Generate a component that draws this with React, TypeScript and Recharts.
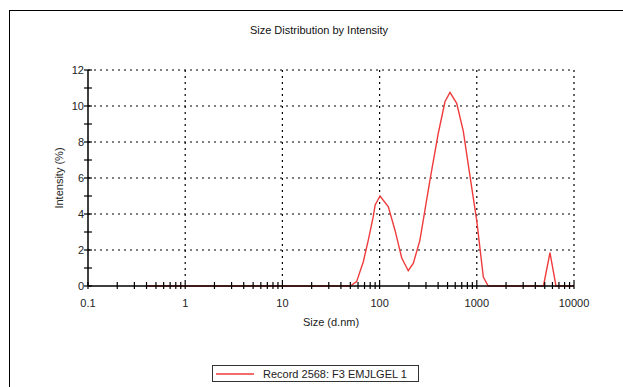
import {
  LineChart,
  Line,
  CartesianGrid,
  XAxis,
  YAxis,
  Legend,
} from "recharts";

const sizes = [
  0.4, 50, 58, 68, 76.5, 86, 90, 101, 123, 144, 169, 197, 222, 260, 330, 402,
  471, 530, 621, 726, 851, 998, 1167, 1312, 4850, 5660, 6530, 10000,
];
const intensity = [
  0, 0, 0.24, 1.35, 2.55, 3.85, 4.5, 5.0, 4.4, 3.1, 1.55, 0.85, 1.25, 2.55,
  5.9, 8.5, 10.25, 10.75, 10.15, 8.6, 6.1, 3.65, 0.5, 0, 0, 1.85, 0, 0,
];

const majorX = [0.1, 1, 10, 100, 1000, 10000];
const majorXLabels = ["0.1", "1", "10", "100", "1000", "10000"];
const minorMult = [2, 3, 4, 5, 6, 7, 8, 9];
const yTicks = [0, 1, 2, 3, 4, 5, 6, 7, 8, 9, 10, 11, 12];
const yGrid = [2, 4, 6, 8, 10, 12];

const recordName = "Record 2568: F3 EMJLGEL 1";

const xTicks: number[] = [];
majorX.forEach((m, i) => {
  xTicks.push(m);
  if (i < majorX.length - 1) minorMult.forEach((k) => xTicks.push(+(m * k).toPrecision(3)));
});

const data = sizes.map((s, i) => ({ size: s, value: intensity[i] }));

const FONT = '"Liberation Sans", Arial, sans-serif';
const RED = "#ef3b3b";

const XTick = (props: any) => {
  const { x, y, payload } = props;
  const idx = majorX.indexOf(payload.value);
  return (
    <g>
      <line x1={x} x2={x} y1={y - 4} y2={y + 3} stroke="#000" strokeWidth={1.2} />
      {idx >= 0 && (
        <text x={x} y={y + 21} textAnchor="middle" fontSize={11} fill="#222" fontFamily={FONT}>
          {majorXLabels[idx]}
        </text>
      )}
    </g>
  );
};

const YTick = (props: any) => {
  const { x, y, payload } = props;
  const labeled = payload.value % 2 === 0;
  return (
    <g>
      <line x1={x - 4} x2={x + 4} y1={y} y2={y} stroke="#000" strokeWidth={1.2} />
      {labeled && (
        <text x={x - 4} y={y + 4} textAnchor="end" fontSize={11} fill="#222" fontFamily={FONT}>
          {payload.value}
        </text>
      )}
    </g>
  );
};

const LegendBox = () => (
  <div
    style={{
      width: 207,
      height: 17,
      border: "1px solid #333",
      display: "flex",
      alignItems: "center",
      fontFamily: FONT,
      fontSize: 11,
      color: "#222",
      boxSizing: "border-box",
      background: "#fff",
    }}
  >
    <svg width={50} height={10}>
      <line x1={3} x2={41} y1={5} y2={5} stroke={RED} strokeWidth={1.5} />
    </svg>
    <span style={{ whiteSpace: "nowrap" }}>{recordName}</span>
  </div>
);

export default function App() {
  return (
    <div
      style={{
        position: "absolute",
        left: 0,
        top: 0,
        width: 623,
        height: 387,
        background: "#fff",
        overflow: "hidden",
        fontFamily: FONT,
      }}
    >
      <div
        style={{
          position: "absolute",
          left: 9,
          top: 10,
          width: 620,
          height: 380,
          borderLeft: "1.5px solid #000",
          borderTop: "1.5px solid #000",
        }}
      />
      <div
        style={{
          position: "absolute",
          left: 0,
          top: 24,
          width: 638,
          textAlign: "center",
          fontSize: 11,
          color: "#111",
        }}
      >
        Size Distribution by Intensity
      </div>
      <LineChart
        width={623}
        height={387}
        data={data}
        margin={{ top: 70, right: 49, bottom: 71, left: 48 }}
      >
        <CartesianGrid
          horizontalValues={yGrid}
          verticalValues={majorX.slice(1)}
          stroke="#000"
          strokeDasharray="2 4"
          strokeWidth={1.2}
        />
        <XAxis
          dataKey="size"
          type="number"
          scale="log"
          domain={[0.1, 10000]}
          allowDataOverflow
          ticks={xTicks}
          interval={0}
          tick={<XTick />}
          tickLine={false}
          tickSize={0}
          tickMargin={0}
          height={30}
          axisLine={{ stroke: "#000", strokeWidth: 1.5 }}
          label={{
            value: "Size (d.nm)",
            position: "bottom",
            offset: 2,
            style: { fontSize: 11, fill: "#222", fontFamily: FONT },
          }}
        />
        <YAxis
          type="number"
          domain={[0, 12]}
          ticks={yTicks}
          interval={0}
          tick={<YTick />}
          tickLine={false}
          tickSize={0}
          tickMargin={0}
          width={40}
          axisLine={{ stroke: "#000", strokeWidth: 1.5 }}
          label={{
            value: "Intensity (%)",
            angle: -90,
            position: "insideLeft",
            offset: 11,
            style: { fontSize: 11, fill: "#222", fontFamily: FONT, textAnchor: "middle" },
          }}
        />
        <Legend
          layout="vertical"
          align="center"
          verticalAlign="middle"
          content={<LegendBox />}
          wrapperStyle={{ left: 212, top: 365, bottom: "auto", width: 207 }}
        />
        <Line
          type="linear"
          dataKey="value"
          stroke={RED}
          strokeWidth={1.4}
          dot={false}
          isAnimationActive={false}
        />
      </LineChart>
    </div>
  );
}
